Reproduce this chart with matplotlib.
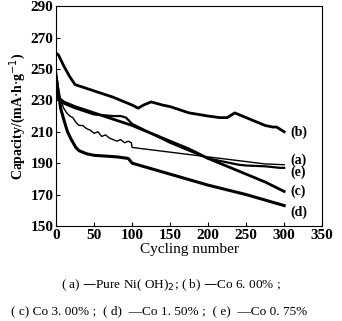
import matplotlib
matplotlib.use("Agg")
import matplotlib.pyplot as plt

plt.rcParams['font.family'] = ['Liberation Serif', 'DejaVu Serif']

# cycle numbers and capacities (mA·h/g)
cyc_a = [0, 3, 6, 10, 14, 18, 22, 26, 30, 35, 40, 45, 50, 55, 60, 65, 70, 75, 80, 85, 90, 95, 99, 100, 125, 150, 175, 200, 225, 250, 275, 300]
cap_a = [250, 238, 230, 225, 222, 220, 219, 216, 214, 214, 212, 211, 209, 210, 207, 208, 206, 205, 204, 205, 203, 204, 203, 200, 198.5, 197, 195.5, 194, 192.5, 191, 189.5, 189]

cyc_b = [0, 3, 10, 18, 25, 50, 75, 100, 108, 115, 125, 140, 150, 175, 200, 215, 225, 235, 245, 250, 265, 275, 285, 290, 300]
cap_b = [260, 259, 252, 245, 240, 236, 232, 227, 225, 227, 229, 227, 226, 222, 220, 219, 219, 222, 220, 219, 216, 214, 213, 213, 210]

cyc_c = [0, 10, 25, 50, 75, 100, 125, 150, 175, 200, 225, 250, 275, 300]
cap_c = [233, 229, 226, 222, 218, 214, 209, 204, 199, 193, 188, 183, 178, 172]

cyc_d = [0, 3, 6, 10, 15, 20, 26, 30, 40, 50, 65, 80, 95, 100, 125, 150, 175, 200, 225, 250, 275, 300]
cap_d = [245, 235, 225, 218, 210, 205, 200, 198, 196, 195, 194.5, 194, 193, 190, 186.5, 183, 179.5, 176, 173, 170, 166.5, 163]

cyc_e = [0, 10, 25, 50, 75, 85, 92, 100, 125, 150, 175, 200, 225, 240, 250, 275, 295, 300]
cap_e = [232, 228, 225, 221, 220, 220, 219, 215, 209, 203, 198, 193, 190.5, 189, 188.5, 188, 187, 187]

curve_names = ['(a)', '(b)', '(c)', '(d)', '(e)']
label_y = [192, 209.5, 172, 159, 184]

xticks = [0, 50, 100, 150, 200, 250, 300, 350]
yticks = [150, 170, 190, 210, 230, 250, 270, 290]

caption1 = "( a) —Pure Ni( OH)$_{2}$; ( b) —Co 6. 00% ;"
caption2 = "( c) Co 3. 00% ;  ( d)  —Co 1. 50% ;  ( e)  —Co 0. 75%"

fig = plt.figure(figsize=(3.42, 3.21), dpi=100)
ax = fig.add_axes([0.164, 0.296, 0.778, 0.685])

ax.plot(cyc_a, cap_a, color='black', lw=1.0)
ax.plot(cyc_b, cap_b, color='black', lw=2.0)
ax.plot(cyc_c, cap_c, color='black', lw=2.0)
ax.plot(cyc_d, cap_d, color='black', lw=2.2)
ax.plot(cyc_e, cap_e, color='black', lw=1.6)

for name, yy in zip(curve_names, label_y):
    ax.text(308, yy, name, fontsize=10, va='center', ha='left', fontweight='bold')

ax.set_xlim(0, 350)
ax.set_ylim(150, 290)
ax.set_xticks(xticks)
ax.set_yticks(yticks)
ax.tick_params(direction='in', length=3, labelsize=11, pad=2)
for lbl in ax.get_xticklabels() + ax.get_yticklabels():
    lbl.set_fontweight('bold')
ax.set_xlabel('Cycling number', fontsize=11, labelpad=1)
ax.set_ylabel('Capacity/(mA$\\cdot$h$\\cdot$g$^{-1}$)', fontsize=10, labelpad=2, fontweight='bold')

fig.text(0.5, 0.112, caption1, ha='center', va='center', fontsize=9.5)
fig.text(0.465, 0.03, caption2, ha='center', va='center', fontsize=9.5)

fig.savefig('out.png', dpi=100)
